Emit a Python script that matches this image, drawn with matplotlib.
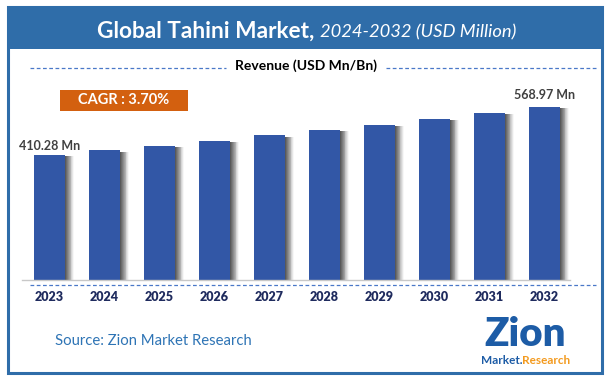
import numpy as np
import matplotlib
matplotlib.use('Agg')
import matplotlib.pyplot as plt
from matplotlib.patches import Rectangle

plt.rcParams['font.family'] = ['Lato', 'DejaVu Sans']

years = ['2023', '2024', '2025', '2026', '2027', '2028', '2029', '2030', '2031', '2032']
revenue = [410.28, 425.5, 441.2, 457.5, 474.5, 492.0, 510.2, 529.1, 548.6, 568.97]
first_label = '410.28 Mn'
last_label = '568.97 Mn'
cagr_text = 'CAGR : 3.70%'

W, H = 610, 383
blue = '#2F6DA9'
bar_col = '#3257A6'

fig = plt.figure(figsize=(W / 100, H / 100), dpi=100)

def px(x, y):
    # pixel (from top-left) to figure fraction
    return x / W, 1 - y / H

def frect(x0, y0, x1, y1, **kw):
    fx0, fy1 = px(x0, y1)
    r = Rectangle((fx0, fy1), (x1 - x0) / W, (y1 - y0) / H, transform=fig.transFigure, **kw)
    fig.add_artist(r)
    return r

# header band and outer frame
frect(8, 7, 602, 49, facecolor=blue, edgecolor='none', zorder=0)
frect(8, 7, 602, 373, facecolor='none', edgecolor=blue, linewidth=2.2, zorder=5)

fig.text(*px(314, 31), 'Global Tahini Market,', color='white', fontsize=16.3,
         fontweight='bold', ha='right', va='center')
fig.text(*px(320, 32), '2024-2032 (USD Million)', color='white', fontsize=13.2,
         fontstyle='italic', ha='left', va='center')

# revenue subtitle with dashed lines
fig.text(*px(306, 66), 'Revenue (USD Mn/Bn)', color='black', fontsize=10,
         fontweight='bold', ha='center', va='center')
for xa, xb in [(30, 226), (386, 596)]:
    fig.add_artist(plt.Line2D([xa / W, xb / W], [1 - 68 / H, 1 - 68 / H], transform=fig.transFigure,
                              color='#4A78C8', linewidth=0.9, linestyle=(0, (3, 2))))

# CAGR box
frect(60, 90, 188, 111, facecolor='#D3600F', edgecolor='none', zorder=2)
fig.text(*px(124, 100.5), cagr_text, color='white', fontsize=10.5, fontweight='bold',
         ha='center', va='center', zorder=3)

# bar axes
ax = fig.add_axes([22 / W, 1 - 280 / H, (570 - 22) / W, (280 - 82) / H])
x = np.arange(len(years))
ax.set_xlim(-0.5, 9.464)
ax.set_ylim(0, 650)

# soft shadow on the right of each bar
grays = np.linspace(0.35, 0.97, 10)
for j, g in enumerate(grays):
    ax.bar(x + 0.28 + j * 0.017, np.array(revenue) - 4, width=0.018, bottom=0, align='edge',
           color=str(g), edgecolor='none', zorder=1)
ax.bar(x, revenue, width=0.57, color=bar_col, edgecolor='none', zorder=2)

ax.text(x[0], revenue[0] + 30, first_label, ha='center', va='center', fontsize=9,
        fontweight='bold', color='#404040')
ax.text(x[-1], revenue[-1] + 38, last_label, ha='center', va='center', fontsize=9,
        fontweight='bold', color='#404040')

for s in ['top', 'right', 'left']:
    ax.spines[s].set_visible(False)
ax.spines['bottom'].set_color('#C8C8C8')
ax.spines['bottom'].set_linewidth(1.0)
ax.set_yticks([])
ax.set_xticks(x)
ax.set_xticklabels(years, fontsize=9, fontweight='heavy', color='#1F2B5E')
ax.tick_params(axis='x', length=0, pad=8)
ax.patch.set_alpha(0)

# dashed line under baseline
fig.add_artist(plt.Line2D([30 / W, 596 / W], [1 - 284.5 / H, 1 - 284.5 / H], transform=fig.transFigure,
                          color='#4A78C8', linewidth=0.9, linestyle=(0, (3, 2))))

# source
fig.text(*px(55, 341), 'Source: Zion Market Research', color='#2E74B5', fontsize=10.7,
         ha='left', va='center')

# logo as text
fig.text(*px(525, 346), 'Zion', color='#1D5CA6', fontsize=29, fontweight='heavy',
         ha='center', va='baseline')
fig.text(*px(522, 361), 'Market.', color='#1D5CA6', fontsize=8.5, fontweight='bold',
         ha='right', va='center')
fig.text(*px(522, 361), 'Research', color='#F39A1E', fontsize=8.5, fontweight='bold',
         ha='left', va='center')

fig.savefig('out.png', dpi=100)
